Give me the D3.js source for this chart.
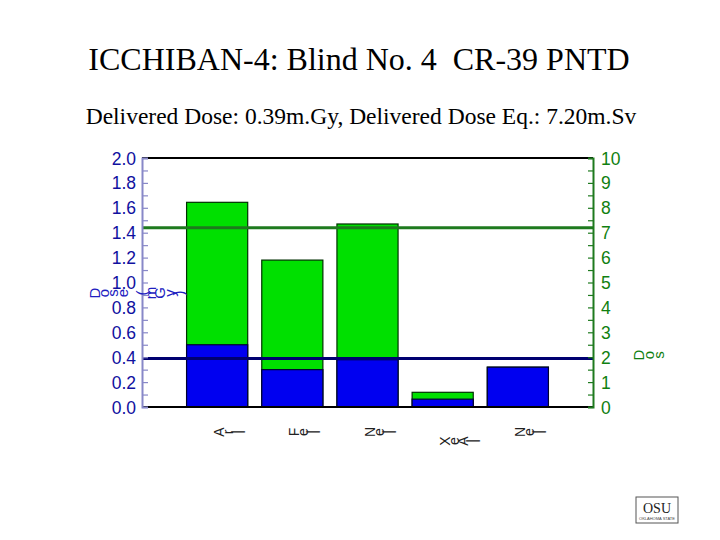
<!DOCTYPE html>
<html>
<head>
<meta charset="utf-8">
<script src="https://cdn.jsdelivr.net/npm/d3@7"></script>
<style>
  body { margin: 0; background: #fff; }
  svg { display: block; }
</style>
</head>
<body>
<div id="chart"></div>
<script>
// beam / sample labels on the x axis
const categories = ['Ar', 'Fe', 'Ne', 'XeA', 'Ne'];
// delivered dose per bar, mGy (left axis, blue)
const doseMGy = [0.50, 0.30, 0.38, 0.063, 0.32];
// dose equivalent per bar, mSv (right axis, green)
const doseEqMSv = [8.22, 5.90, 7.35, 0.59, 1.6];
// reference (delivered) values
const deliveredDose = 0.39;
const deliveredDoseEq = 7.20;
const leftTicks = [0, 0.2, 0.4, 0.6, 0.8, 1.0, 1.2, 1.4, 1.6, 1.8, 2.0];
const rightTicks = [0, 1, 2, 3, 4, 5, 6, 7, 8, 9, 10];

const width = 720, height = 540;
const plot = {left: 142, right: 593, top: 158, bottom: 407};
const blue = '#0000f0', green = '#00e000';
const leftColor = '#1010a0', rightColor = '#108010';
const sans = '"Liberation Sans", Arial, sans-serif';

const svg = d3.select('#chart').append('svg')
  .attr('width', width)
  .attr('height', height);

// text whose glyphs are each turned a quarter left, laid out left to right
function turnedText (g, str, x0, y, size, adv, color) {
  let chars = str.split('');
  g.selectAll(null)
    .data(chars)
    .enter().append('text')
    .attr('transform', (c, i) => 'translate(' + (x0 + i * adv) + ',' + y + ') rotate(-90)')
    .attr('text-anchor', 'middle')
    .attr('dominant-baseline', 'central')
    .attr('fill', color)
    .style('font-family', sans)
    .style('font-size', size + 'px')
    .text(c => c);
}

svg.append('text')
  .attr('x', 359).attr('y', 70)
  .attr('text-anchor', 'middle')
  .style('font-family', '"Liberation Serif", "Times New Roman", serif')
  .style('font-size', '32px')
  .attr('xml:space', 'preserve')
  .text('ICCHIBAN-4: Blind No. 4  CR-39 PNTD');

svg.append('text')
  .attr('x', 361).attr('y', 124)
  .attr('text-anchor', 'middle')
  .style('font-family', '"Liberation Serif", "Times New Roman", serif')
  .style('font-size', '23.5px')
  .text('Delivered Dose: 0.39m.Gy, Delivered Dose Eq.: 7.20m.Sv');

let x = d3.scaleBand()
  .domain(d3.range(categories.length))
  .range([plot.left, plot.right])
  .paddingInner(0.187)
  .paddingOuter(0.593);

let yL = d3.scaleLinear().domain([0, 2]).range([plot.bottom, plot.top]);
let yR = d3.scaleLinear().domain([0, 10]).range([plot.bottom, plot.top]);

// green (dose eq) bars, drawn from the right scale
svg.selectAll('.eq')
  .data(doseEqMSv)
  .enter().append('rect')
  .attr('class', 'eq')
  .attr('x', (d, i) => x(i))
  .attr('width', x.bandwidth())
  .attr('y', d => yR(d))
  .attr('height', d => yR(0) - yR(d))
  .attr('fill', green)
  .attr('stroke', '#003000')
  .attr('stroke-width', 1.2);

// blue (dose) bars, left scale
svg.selectAll('.dose')
  .data(doseMGy)
  .enter().append('rect')
  .attr('class', 'dose')
  .attr('x', (d, i) => x(i))
  .attr('width', x.bandwidth())
  .attr('y', d => yL(d))
  .attr('height', d => yL(0) - yL(d))
  .attr('fill', blue)
  .attr('stroke', '#000030')
  .attr('stroke-width', 1.2);

// reference lines
svg.append('line')
  .attr('x1', plot.left).attr('x2', plot.right)
  .attr('y1', yR(deliveredDoseEq)).attr('y2', yR(deliveredDoseEq))
  .attr('stroke', '#1e7a1e').attr('stroke-width', 3);

svg.append('line')
  .attr('x1', plot.left).attr('x2', plot.right)
  .attr('y1', yL(deliveredDose)).attr('y2', yL(deliveredDose))
  .attr('stroke', '#000070').attr('stroke-width', 3);

// frame top/bottom
svg.append('line')
  .attr('x1', plot.left).attr('x2', plot.right)
  .attr('y1', plot.top).attr('y2', plot.top)
  .attr('stroke', '#000').attr('stroke-width', 2);
svg.append('line')
  .attr('x1', plot.left).attr('x2', plot.right)
  .attr('y1', plot.bottom).attr('y2', plot.bottom)
  .attr('stroke', '#000').attr('stroke-width', 2);

// left axis
let leftAxis = svg.append('g')
  .attr('transform', 'translate(' + plot.left + ',0)')
  .call(d3.axisRight(yL).tickValues(d3.range(0, 2.01, 0.1)).tickSize(6).tickFormat(''));
leftAxis.select('.domain').attr('stroke', '#8888c8').attr('stroke-width', 2);
leftAxis.selectAll('.tick line').attr('stroke', '#8888c8').attr('stroke-width', 1.2);

svg.append('g').selectAll('text')
  .data(leftTicks)
  .enter().append('text')
  .attr('x', 136)
  .attr('y', d => yL(d) + 6.5)
  .attr('text-anchor', 'end')
  .attr('fill', leftColor)
  .style('font-family', sans)
  .style('font-size', '17.5px')
  .text(d => d.toFixed(1));

// right axis
let rightAxis = svg.append('g')
  .attr('transform', 'translate(' + plot.right + ',0)')
  .call(d3.axisLeft(yR).tickValues(d3.range(0, 10.01, 0.5)).tickSize(5).tickFormat(''));
rightAxis.select('.domain').attr('stroke', '#1e7a1e').attr('stroke-width', 2);
rightAxis.selectAll('.tick line').attr('stroke', '#1e7a1e').attr('stroke-width', 1.2);

svg.append('g').selectAll('text')
  .data(rightTicks)
  .enter().append('text')
  .attr('x', 601)
  .attr('y', d => yR(d) + 6.5)
  .attr('text-anchor', 'start')
  .attr('fill', rightColor)
  .style('font-family', sans)
  .style('font-size', '17.5px')
  .text(d => d);

// axis titles
turnedText(svg.append('g'), 'Dose (mGy)', 94, 293, 15, 9.4, '#2020c0');
turnedText(svg.append('g'), 'Dos', 638, 355, 15, 10, '#108010');

// x category labels
categories.forEach((c, i) => {
  let cx = x(i) + x.bandwidth() / 2;
  turnedText(svg.append('g'), c + '|', cx + 2, i === 3 ? 441 : 432, 14, 9, '#222');
});

// OSU badge
let logo = svg.append('g').attr('transform', 'translate(636,497)');
logo.append('rect')
  .attr('width', 42).attr('height', 26)
  .attr('fill', '#fff').attr('stroke', '#555').attr('stroke-width', 1);
logo.append('text')
  .attr('x', 21).attr('y', 16)
  .attr('text-anchor', 'middle')
  .style('font-family', '"Liberation Serif", serif')
  .style('font-size', '14px')
  .attr('fill', '#222')
  .text('OSU');
logo.append('text')
  .attr('x', 21).attr('y', 23)
  .attr('text-anchor', 'middle')
  .style('font-family', sans)
  .style('font-size', '4px')
  .attr('fill', '#444')
  .text('OKLAHOMA STATE');
</script>
</body>
</html>
